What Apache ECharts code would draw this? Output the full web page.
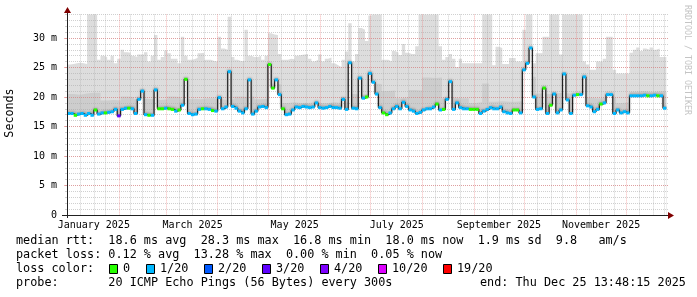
<!DOCTYPE html>
<html><head><meta charset="utf-8">
<script src="https://cdn.jsdelivr.net/npm/echarts@6/dist/echarts.min.js"></script>
<style>html,body{margin:0;padding:0;background:#fff}#c{width:697px;height:297px}</style>
</head><body><div id="c"></div>
<script>
// ---- data (2-day bins starting 1 Jan 2025, values in ms) ----
const binDays = 2;
const medianRtt = [
17.2,17.2,16.9,17.1,17.2,16.9,17.2,16.9,17.8,17.1,
17.3,17.3,17.4,17.5,17.9,16.8,17.9,18.1,18.1,18.0,
17.2,19.6,21.0,17.0,16.9,16.9,21.2,18.0,18.0,18.1,
18.0,17.9,17.6,17.8,18.6,23.0,17.2,17.0,17.1,17.9,
18.0,18.0,17.9,17.7,17.6,19.9,18.0,18.3,24.3,18.4,
18.1,17.6,17.3,18.0,22.9,17.1,17.6,18.3,18.4,18.2,
25.5,21.5,22.9,20.4,18.0,17.0,17.1,17.8,18.3,18.2,
18.4,18.3,18.2,18.3,19.0,18.2,18.1,18.2,18.4,18.2,
18.2,18.1,19.6,17.9,25.8,18.1,18.0,23.2,19.8,20.0,
24.0,22.5,20.5,18.2,17.3,17.0,17.3,18.0,18.4,18.0,
19.1,18.4,17.8,17.6,17.2,17.4,17.8,18.0,18.0,18.3,
18.8,17.8,17.9,19.6,22.6,17.9,19.0,18.2,18.0,18.0,
17.9,17.9,17.9,17.2,17.6,17.9,18.2,18.0,18.0,18.3,
17.5,17.3,17.2,17.8,17.8,17.3,24.6,25.7,28.3,20.0,
17.9,18.0,21.5,17.2,18.6,20.5,17.3,17.8,23.9,19.5,
17.2,20.3,20.4,20.4,23.4,18.5,18.3,17.5,17.9,18.8,
19.0,20.4,20.4,17.2,17.8,17.3,17.5,17.3,20.2,20.2,
20.2,20.2,20.3,20.2,20.2,20.3,20.2,20.2,18.1];
const lossCount = [
1,1,0,1,1,1,1,1,0,1,
1,0,1,1,1,3,1,1,0,1,
1,1,1,1,0,1,1,0,0,1,
0,0,1,0,1,0,1,1,1,1,
0,1,1,0,1,1,1,1,1,1,
1,1,1,1,1,1,1,1,1,1,
0,0,1,1,0,1,1,1,1,1,
1,1,1,1,1,1,1,1,1,1,
1,1,1,1,1,1,1,1,1,0,
1,1,1,1,0,0,1,1,1,1,
1,1,1,1,1,1,1,1,1,1,
0,1,0,1,1,1,1,1,1,1,
0,0,0,1,1,1,1,1,1,1,
1,1,1,0,0,1,1,1,1,1,
1,1,0,1,0,1,1,1,1,1,
1,1,0,1,1,1,1,1,1,0,
1,1,1,1,1,1,1,1,1,1,
1,1,1,0,1,1,0,1,1];
const smokeMax = [
25.5,25.6,25.7,25.8,25.7,25.6,35,35,35,26.3,
27.0,26.8,26.3,27.0,25.7,26.5,28.0,27.6,27.5,27.0,
26.8,27.2,27.2,27.6,26.0,27.0,30.5,26.3,26.8,27.9,
27.4,26.5,26.5,25.7,30.2,27.0,26.3,26.4,26.6,27.4,
27.5,26.3,26.3,26.1,26.0,30.2,28.2,28.0,33.6,26.8,
26.3,26.1,26.1,31.4,27.0,26.8,26.8,27.0,26.3,27.0,
30.8,30.6,30.5,27.3,26.3,26.3,26.5,26.4,27.0,27.1,
27.2,27.3,26.5,26.0,26.3,27.2,26.0,26.5,26.7,25.7,
25.4,25.1,26.3,27.7,32.5,26.0,27.3,31.7,31.4,29.5,
33.8,35,35,35,26.3,26.3,26.0,27.8,27.5,27.1,
29.0,27.5,27.3,27.3,28.6,35,35,35,35,35,
35,28.6,26.3,26.8,27.3,26.5,25.1,26.5,25.7,25.7,
25.7,25.7,25.7,25.7,35,35,35,25.4,28.5,28.3,
25.6,25.6,26.6,26.6,26.0,26.0,31.4,35,35,25.7,
27.4,27.4,30.2,30.2,35,35,35,27.2,35,35,
35,35,35,35,26.0,25.5,24.6,24.6,26.0,26.0,
26.5,30.2,30.2,24.6,24.0,24.0,24.0,24.0,27.5,28.0,
28.4,27.8,28.2,28.0,28.4,28.0,28.2,26.8,26.8];
// darker inner smoke (4-day bins)
const smokeMidBinDays = 4;
const smokeMid = [
20.5,20.4,20.6,20.7,20.7,19.4,19.5,19.4,20.1,20.0,
19.6,19.7,19.6,19.5,19.6,20.1,20.0,19.6,19.7,19.6,
19.8,19.8,19.6,19.5,19.6,20.1,20.0,20.1,19.6,19.7,
22.3,22.1,19.0,19.1,19.0,19.0,19.1,19.0,19.0,19.1,
19.0,19.1,20.5,20.4,20.5,22.3,22.2,21.0,21.1,19.8,
19.9,21.2,21.1,23.3,23.2,23.3,19.8,19.9,19.8,19.8,
19.0,19.1,22.3,19.2,19.3,19.2,19.2,19.3,23.5,23.4,
20.6,20.5,20.6,20.7,20.6,20.5,19.8,19.9,19.8,19.8,
19.9,19.8,19.0,19.1,20.9,21.0,20.9,20.9,21.0,20.9];
const monthLabels = ['January 2025','March 2025','May 2025','July 2025','September 2025','November 2025'];
const monthLabelDays = [16,75,136,197,258,319];
const monthStartDays = [0,31,59,90,120,151,181,212,243,273,304,334];
const monthLengths = [31,28,31,30,31,30,31,31,30,31,30,31];
const yTickLabels = ['0','5 m','10 m','15 m','20 m','25 m','30 m'];
const lossLegendLabels = ['0','1/20','2/20','3/20','4/20','10/20','19/20'];
const lossLegendCounts = [0,1,2,3,4,10,19];
const statsLines = [
 'median rtt:  18.6 ms avg  28.3 ms max  16.8 ms min  18.0 ms now  1.9 ms sd  9.8   am/s',
 'packet loss: 0.12 % avg  13.28 % max  0.00 % min  0.05 % now',
 'loss color:',
 'probe:       20 ICMP Echo Pings (56 Bytes) every 300s'];
const endText = 'end: Thu Dec 25 13:48:15 2025';

// ---- styles ----
const lossColorMap = {0:'#26ff00',1:'#00b8ff',2:'#0059ff',3:'#5e00ff',4:'#7e00ff',10:'#dd00ff',19:'#ff0000'};
function lossColor(c){ let best = 0; for (const k of lossLegendCounts) if (c >= k) best = k; return lossColorMap[best]; }
const MONO = '"DejaVu Sans Mono", monospace';
const GRID_C = 'rgba(170,170,170,0.55)';
const MGRID_C = 'rgba(235,110,110,0.5)';
const DAYS = 359;
const LAST = medianRtt.length * binDays;

function stepData(arr, w){
  const d = arr.map((v,i)=>[i*w, v]);
  d.push([Math.min(arr.length*w, LAST), arr[arr.length-1]]);
  return d;
}
const quarterDays = [];
monthStartDays.forEach((s,i)=>{ for (let q=1;q<4;q++) quarterDays.push(s+Math.round(monthLengths[i]*q/4)); });
const dayCats = Array.from({length: DAYS+1}, (_,i)=>String(i));
const segData = medianRtt.map((v,i)=>[i*binDays, (i+1)*binDays, v, lossCount[i]]);

const chart = echarts.init(document.getElementById('c'), null, {renderer:'canvas'});
const areaSeries = (data, color) => ({
  type:'line', data, step:'end', xAxisIndex:0, yAxisIndex:0, showSymbol:false, symbol:'none',
  lineStyle:{opacity:0, width:0}, areaStyle:{color, opacity:1, origin:'start'}, z:1, silent:true, clip:true
});

const graphics = [];
graphics.push({type:'text', x:10, y:113, rotation:Math.PI/2, style:{text:'Seconds', font:'11.7px '+MONO, fill:'#000', align:'center', verticalAlign:'middle'}});
graphics.push({type:'text', x:687, y:5, rotation:-Math.PI/2, style:{text:'RRDTOOL / TOBI OETIKER', font:'8.3px '+MONO, fill:'#c4c4c4', align:'left', verticalAlign:'middle'}});
const lineY = [241,255,269,283];
statsLines.forEach((t,i)=>graphics.push({type:'text', x:16, y:lineY[i], style:{text:t, font:'11.8px '+MONO, fill:'#000', verticalAlign:'middle'}}));
graphics.push({type:'text', x:480, y:283, style:{text:endText, font:'11.8px '+MONO, fill:'#000', verticalAlign:'middle'}});
const boxX = [109,146,204,262,320,378,443];
lossLegendLabels.forEach((lab,i)=>{
  graphics.push({type:'rect', shape:{x:boxX[i]+0.5, y:264.5, width:8, height:9}, style:{fill:lossColorMap[lossLegendCounts[i]], stroke:'#000', lineWidth:1}});
  graphics.push({type:'text', x:boxX[i]+14, y:269, style:{text:lab, font:'11.8px '+MONO, fill:'#000', verticalAlign:'middle'}});
});
// axis lines + arrows
graphics.push({type:'line', z:10, shape:{x1:62, y1:215.5, x2:668, y2:215.5}, style:{stroke:'#212121', lineWidth:1}});
graphics.push({type:'line', z:10, shape:{x1:67.5, y1:218, x2:67.5, y2:12}, style:{stroke:'#212121', lineWidth:1}});
graphics.push({type:'polygon', z:10, shape:{points:[[64,13],[71,13],[67.5,7]]}, style:{fill:'#800000'}});
graphics.push({type:'polygon', z:10, shape:{points:[[668,212],[668,219],[674,215.5]]}, style:{fill:'#800000'}});

chart.setOption({
  animation:false,
  backgroundColor:'#fff',
  grid:{left:67, right:29, top:14.4, bottom:82, containLabel:false, outerBoundsMode:'none'},
  xAxis:[
    {type:'value', min:0, max:DAYS, show:false},
    {type:'category', data:dayCats, boundaryGap:false, position:'bottom', offset:0, z:3,
     axisLine:{show:false}, axisTick:{show:false},
     axisLabel:{interval:(idx)=>monthLabelDays.indexOf(idx)>=0,
       formatter:(v,idx)=>monthLabels[monthLabelDays.indexOf(idx)]||'',
       fontFamily:MONO, fontSize:10, color:'#000', margin:5},
     splitLine:{show:true, interval:(idx)=>monthStartDays.indexOf(idx)>0, lineStyle:{color:MGRID_C, type:[1,1], width:1}}},
    {type:'category', data:dayCats, boundaryGap:false, position:'bottom', offset:0, z:2,
     axisLine:{show:false}, axisTick:{show:false}, axisLabel:{show:false},
     splitLine:{show:true, interval:(idx)=>quarterDays.indexOf(idx)>=0, lineStyle:{color:GRID_C, type:[1,1], width:1}}}
  ],
  yAxis:[
    {type:'value', min:0, max:34, interval:5, position:'left', z:3,
     axisLine:{show:false}, axisTick:{show:true, length:3, lineStyle:{color:MGRID_C}},
     axisLabel:{formatter:(v)=>yTickLabels[Math.round(v/5)]||'', showMaxLabel:false, fontFamily:MONO, fontSize:10, color:'#000', margin:10},
     splitLine:{show:true, showMaxLine:false, lineStyle:{color:MGRID_C, type:[1,1], width:1}}},
    {type:'value', min:0, max:34, interval:1, position:'left', z:2,
     axisLine:{show:false}, axisTick:{show:true, length:2, lineStyle:{color:GRID_C}}, axisLabel:{show:false},
     splitLine:{show:true, lineStyle:{color:GRID_C, type:[1,1], width:1}}}
  ],
  graphic: graphics,
  series:[
    areaSeries(stepData(smokeMax, binDays), '#dddddd'),
    areaSeries(stepData(smokeMid, smokeMidBinDays), '#cdcdcd'),
    areaSeries(stepData(medianRtt, binDays), '#ffffff'),
    {type:'line', data:stepData(medianRtt, binDays), step:'end', xAxisIndex:0, yAxisIndex:0, symbol:'none', showSymbol:false, z:4, silent:true,
     lineStyle:{color:'#202020', width:1.2, shadowColor:'rgba(0,0,0,0.3)', shadowBlur:2, shadowOffsetY:-1.5}},
    {type:'custom', xAxisIndex:0, yAxisIndex:0, z:5, silent:true, data:segData,
     encode:{x:[0,1], y:2},
     renderItem:(params, api)=>{
       const a = api.coord([api.value(0), api.value(2)]);
       const b = api.coord([api.value(1), api.value(2)]);
       return {type:'line', shape:{x1:a[0], y1:a[1], x2:b[0], y2:b[1]}, style:{stroke:lossColor(api.value(3)), lineWidth:3}};
     }}
  ]
});
</script></body></html>
